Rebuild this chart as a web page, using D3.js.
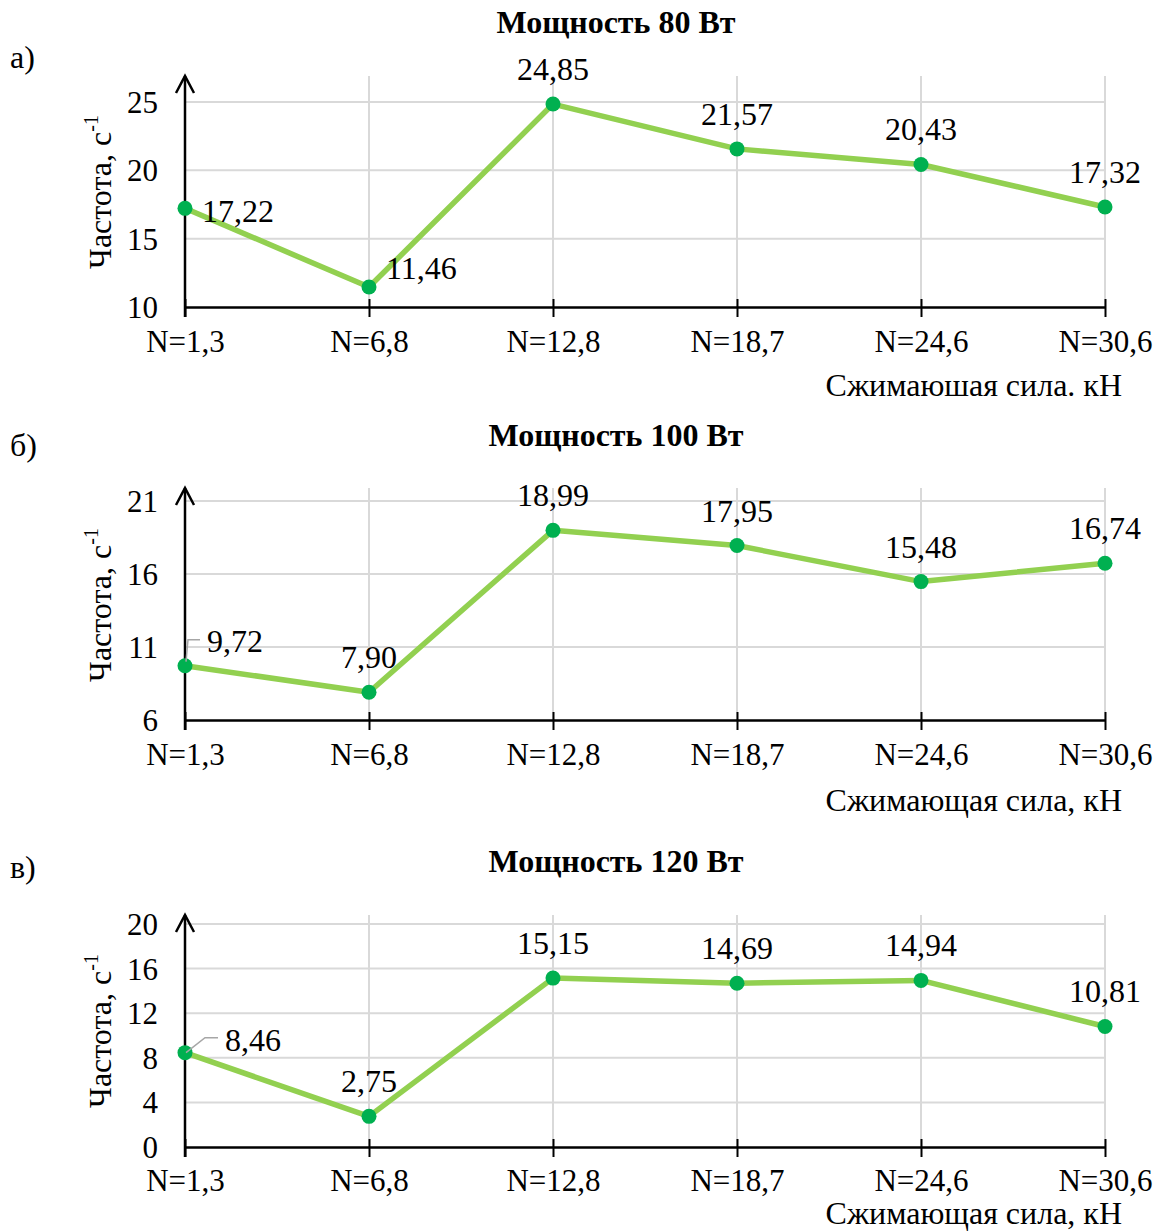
<!DOCTYPE html>
<html><head><meta charset="utf-8">
<script src="https://cdn.jsdelivr.net/npm/d3@7"></script>
<style>body{margin:0;background:#fff}svg{display:block}text{font-family:"Liberation Serif","Times New Roman",serif;fill:#000}</style>
</head><body>
<svg id="c" width="1164" height="1232"></svg>
<script>
const categories = ["N=1,3","N=6,8","N=12,8","N=18,7","N=24,6","N=30,6"];
const values80  = [17.22, 11.46, 24.85, 21.57, 20.43, 17.32];
const values100 = [9.72, 7.90, 18.99, 17.95, 15.48, 16.74];
const values120 = [8.46, 2.75, 15.15, 14.69, 14.94, 10.81];
const ticks80  = [10, 15, 20, 25];
const ticks100 = [6, 11, 16, 21];
const ticks120 = [0, 4, 8, 12, 16, 20];
const titles = ["Мощность 80 Вт", "Мощность 100 Вт", "Мощность 120 Вт"];
const letters = ["а)", "б)", "в)"];
const axisTitles = ["Сжимаюшая сила. кН", "Сжимающая сила, кН", "Сжимающая сила, кН"];
const yTitle = "Частота, с";

const panels = [
  {values: values80, ticks: ticks80, title: titles[0], letter: letters[0], xTitle: axisTitles[0],
   yBottom: 307, yTopPx: 102, arrowTop: 76, titleY: 33, letterY: 68, tickLabY: 352, xTitleY: 396, yLabCy: 192,
   place: ["right","right","above","above","above","above"]},
  {values: values100, ticks: ticks100, title: titles[1], letter: letters[1], xTitle: axisTitles[1],
   yBottom: 720, yTopPx: 501, arrowTop: 488, titleY: 446, letterY: 456, tickLabY: 765, xTitleY: 811, yLabCy: 605,
   place: ["leader1","above","above","above","above","above"]},
  {values: values120, ticks: ticks120, title: titles[2], letter: letters[2], xTitle: axisTitles[2],
   yBottom: 1147, yTopPx: 924, arrowTop: 915, titleY: 872, letterY: 878, tickLabY: 1191, xTitleY: 1224, yLabCy: 1031,
   place: ["leader2","above","above","above","above","above"]}
];

const svg = d3.select("#c");
const x = d3.scalePoint().domain(categories).range([185, 1105]);
const fmt = v => d3.format(".2f")(v).replace(".", ",");
const FS = 32, TFS = 31;

panels.forEach(p => {
  const ext = d3.extent(p.ticks);
  const y = d3.scaleLinear().domain(ext).range([p.yBottom, p.yTopPx]);
  const g = svg.append("g");

  g.append("text").attr("x", 616).attr("y", p.titleY).attr("text-anchor","middle")
    .attr("font-size", FS).attr("font-weight","bold").text(p.title);
  g.append("text").attr("x", 10).attr("y", p.letterY).attr("font-size", FS).text(p.letter);

  g.selectAll(".hg").data(p.ticks.slice(1)).enter().append("line")
    .attr("x1", 185).attr("x2", 1105).attr("y1", d => y(d)).attr("y2", d => y(d))
    .attr("stroke", "#d9d9d9").attr("stroke-width", 2);
  g.selectAll(".vg").data(categories.slice(1)).enter().append("line")
    .attr("x1", d => x(d)).attr("x2", d => x(d)).attr("y1", p.arrowTop).attr("y2", p.yBottom)
    .attr("stroke", "#d9d9d9").attr("stroke-width", 2);

  const xa = g.append("g").attr("transform", `translate(0,${p.yBottom})`)
    .call(d3.axisBottom(x).tickSize(10).tickSizeOuter(0));
  xa.select(".domain").attr("stroke","#000").attr("stroke-width",2.5);
  xa.selectAll(".tick line").attr("stroke","#000").attr("stroke-width",2).attr("y1",-8);
  xa.selectAll(".tick text").attr("font-size", TFS).attr("font-family","Liberation Serif").attr("fill","#000")
    .attr("y", p.tickLabY - p.yBottom).attr("dy", null);

  const ya = g.append("g").attr("transform", "translate(185,0)")
    .call(d3.axisLeft(y).tickValues(p.ticks).tickSize(0).tickPadding(0));
  ya.select(".domain").remove();
  ya.selectAll(".tick text").attr("font-size", TFS).attr("font-family","Liberation Serif").attr("fill","#000")
    .attr("x", -27).attr("dy", "0.34em");
  g.append("line").attr("x1",185).attr("x2",185).attr("y1",p.arrowTop).attr("y2",p.yBottom+10)
    .attr("stroke","#000").attr("stroke-width",2.5);
  g.append("path").attr("d", `M176,${p.arrowTop+17}L185,${p.arrowTop}L194,${p.arrowTop+17}`)
    .attr("fill","none").attr("stroke","#000").attr("stroke-width",2.5);

  const yt = g.append("text").attr("transform", `translate(111,${p.yLabCy}) rotate(-90)`)
    .attr("text-anchor","middle").attr("font-size", FS);
  yt.append("tspan").text(yTitle);
  yt.append("tspan").attr("font-size", 20).attr("dy", -13).text("-1");

  g.append("text").attr("x", 1122).attr("y", p.xTitleY).attr("text-anchor","end")
    .attr("font-size", FS).text(p.xTitle);

  const line = d3.line().x((d,i) => x(categories[i])).y(d => y(d));
  g.append("path").datum(p.values).attr("d", line).attr("fill","none")
    .attr("stroke","#92d050").attr("stroke-width",5.5).attr("stroke-linejoin","round");
  g.selectAll(".pt").data(p.values).enter().append("circle")
    .attr("cx",(d,i)=>x(categories[i])).attr("cy",d=>y(d)).attr("r",7.5).attr("fill","#00b050");

  p.values.forEach((v,i) => {
    const px = x(categories[i]), py = y(v);
    const t = g.append("text").attr("font-size", FS).text(fmt(v));
    const mode = p.place[i];
    if (mode === "above") {
      t.attr("x", px).attr("y", py - 24).attr("text-anchor","middle");
    } else if (mode === "right") {
      t.attr("x", px + 17).attr("y", i === 0 ? py + 14 : py - 8);
    } else if (mode === "leader1") {
      g.append("path").attr("d", `M${px+1},${py-4}L${px+3},${py-26}L${px+15},${py-26}`)
        .attr("fill","none").attr("stroke","#a6a6a6").attr("stroke-width",1.5);
      t.attr("x", px + 22).attr("y", py - 14);
    } else if (mode === "leader2") {
      g.append("path").attr("d", `M${px+1},${py}L${px+20},${py-15}L${px+33},${py-15}`)
        .attr("fill","none").attr("stroke","#a6a6a6").attr("stroke-width",1.5);
      t.attr("x", px + 40).attr("y", py - 2);
    }
  });
});
</script>
</body></html>
